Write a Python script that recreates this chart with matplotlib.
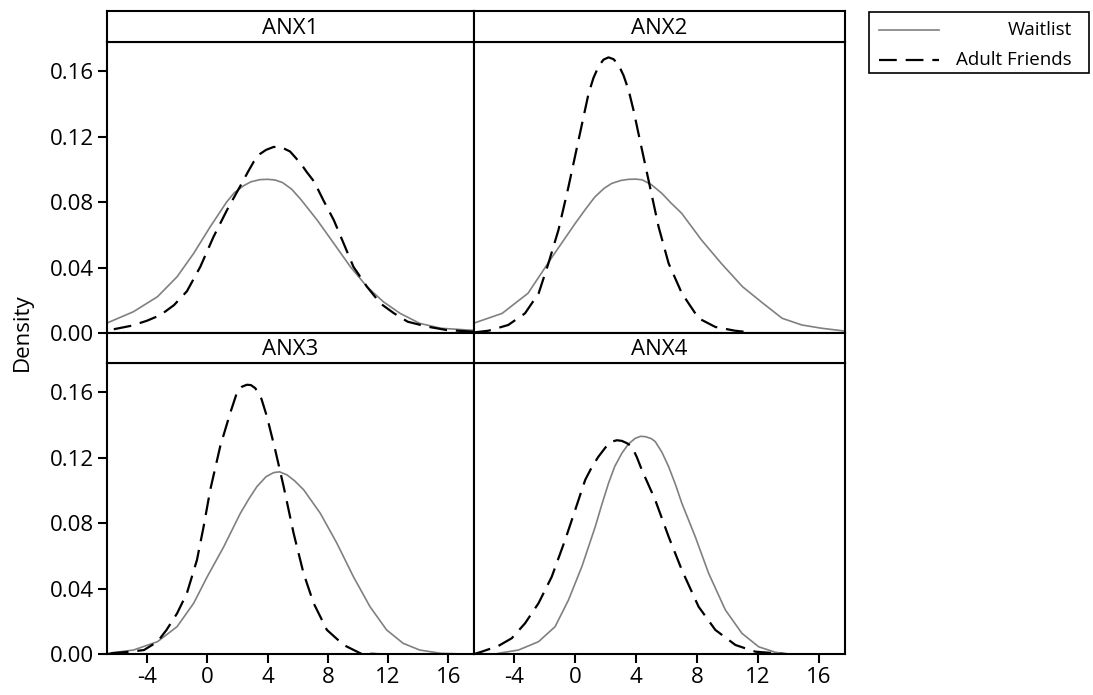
import matplotlib
matplotlib.use("Agg")
import matplotlib.pyplot as plt
from matplotlib.lines import Line2D
from matplotlib.patches import Rectangle

plt.rcParams['font.family'] = ['Open Sans', 'DejaVu Sans']

# ---------------- data ----------------
panels = ["ANX1", "ANX2", "ANX3", "ANX4"]
groups = ["Waitlist", "Adult Friends"]

anx1_wl_x = [-6.6, -4.9, -3.3, -2.0, -0.9, 0.2, 1.3, 1.8, 2.4, 2.9, 3.5, 4.0, 4.5, 5.0, 5.6, 6.2, 6.7, 7.3, 8.4, 9.5, 10.6, 11.7, 12.8, 14.1, 15.5, 17.7]
anx1_wl_y = [.0063, .013, .0222, .0344, .0487, .065, .0803, .0858, .0900, .0925, .0938, .094, .0936, .0920, .0880, .0818, .0760, .069, .0548, .0405, .0283, .019, .012, .0059, .0029, .0016]
anx1_af_x = [-6.2, -5.0, -4.0, -3.1, -2.2, -1.35, -0.46, 0.42, 1.3, 2.2, 2.7, 3.1, 3.5, 3.9, 4.4, 4.9, 5.5, 6.2, 6.6, 7.1, 7.7, 8.4, 9.05, 9.7, 10.6, 11.5, 12.4, 13.3, 14.6, 15.9, 17.7]
anx1_af_y = [.0023, .0045, .0075, .011, .0171, .0255, .0405, .0589, .075, .090, .0985, .1050, .1095, .1120, .1138, .1137, .1110, .1037, .0985, .0925, .0813, .069, .0548, .0405, .0283, .018, .012, .0069, .0039, .0018, .0008]

anx2_wl_x = [-6.7, -4.8, -3.1, -1.5, 0.0, 0.7, 1.3, 1.9, 2.4, 3.0, 3.5, 4.0, 4.4, 5.0, 5.7, 6.3, 7.0, 8.3, 9.6, 11.0, 12.3, 13.6, 14.9, 16.2, 17.7]
anx2_wl_y = [.0059, .012, .0243, .0467, .067, .076, .0833, .0885, .0915, .0933, .094, .0941, .0937, .0908, .0854, .0795, .0732, .0569, .0426, .0283, .0185, .009, .0049, .0029, .0012]
anx2_af_x = [-6.7, -5.7, -4.4, -3.3, -2.4, -1.76, -1.1, -0.44, 0.22, 0.88, 1.2, 1.53, 1.86, 2.19, 2.52, 2.85, 3.18, 3.51, 3.84, 4.16, 4.82, 5.48, 6.14, 7.01, 8.11, 9.21, 10.5, 11.1]
anx2_af_y = [.0003, .0014, .0049, .012, .0243, .0426, .063, .0895, .118, .1465, .156, .163, .1672, .1686, .1675, .164, .1575, .1486, .136, .122, .0935, .065, .0426, .0243, .009, .0037, .0014, .0008]

anx3_wl_x = [-6.6, -4.9, -3.3, -2.0, -0.9, 0.0, 1.1, 2.2, 2.8, 3.3, 3.9, 4.4, 4.8, 5.3, 5.8, 6.4, 7.5, 8.6, 9.7, 10.8, 11.9, 13.0, 14.1, 15.5, 17.7]
anx3_wl_y = [.0006, .0026, .0077, .0169, .0312, .0474, .0658, .0862, .0955, .1025, .1085, .111, .1115, .1096, .1060, .1005, .0862, .0679, .0474, .0291, .0149, .0067, .0026, .0006, .0]
anx3_af_x = [-6.4, -5.1, -4.2, -3.3, -2.7, -2.0, -1.35, -0.68, -0.24, 0.2, 0.86, 1.52, 1.96, 2.3, 2.63, 2.9, 3.19, 3.6, 3.96, 4.51, 5.07, 5.73, 6.39, 7.06, 7.94, 9.05, 10.16, 11.7]
anx3_af_y = [.0006, .0016, .0026, .0077, .0149, .025, .0373, .0577, .078, .1005, .127, .1473, .1596, .1635, .1647, .1645, .1626, .156, .1453, .1249, .1025, .074, .0495, .0312, .0149, .0057, .0006, .0]

anx4_wl_x = [-5.05, -3.73, -2.41, -1.32, -0.44, 0.44, 1.32, 1.75, 2.19, 2.6, 3.07, 3.5, 3.95, 4.3, 4.61, 5.0, 5.26, 5.7, 6.14, 6.6, 7.01, 7.89, 8.77, 9.87, 10.96, 12.06, 13.16, 14.25]
anx4_wl_y = [.0006, .0026, .0077, .0169, .0332, .0536, .078, .0915, .1045, .1148, .1229, .1285, .132, .1332, .133, .1318, .130, .1235, .1147, .1035, .0923, .0719, .0495, .0271, .0128, .0046, .0012, .0]
anx4_af_x = [-6.7, -6.14, -5.05, -4.17, -3.29, -2.41, -1.54, -0.66, 0.0, 0.66, 1.1, 1.53, 2.0, 2.41, 2.75, 3.07, 3.4, 3.72, 4.05, 4.38, 5.26, 6.14, 7.01, 8.11, 9.21, 10.53, 11.84, 14.0]
anx4_af_y = [.0, .0016, .0051, .0098, .019, .0312, .0474, .0699, .0882, .1066, .1145, .1208, .1265, .130, .1308, .1304, .129, .127, .1205, .1127, .0943, .0719, .0515, .0291, .0149, .0057, .0016, .0]

x_ticks = [-4, 0, 4, 8, 12, 16]
y_ticks = [0.00, 0.04, 0.08, 0.12, 0.16]
y_label = "Density"

curves = {
    "ANX1": [(anx1_wl_x, anx1_wl_y), (anx1_af_x, anx1_af_y)],
    "ANX2": [(anx2_wl_x, anx2_wl_y), (anx2_af_x, anx2_af_y)],
    "ANX3": [(anx3_wl_x, anx3_wl_y), (anx3_af_x, anx3_af_y)],
    "ANX4": [(anx4_wl_x, anx4_wl_y), (anx4_af_x, anx4_af_y)],
}

# ---------------- styles ----------------
W, H = 1093, 695
styles = [
    dict(color="#808080", lw=1.2, linestyle="-"),
    dict(color="black", lw=1.6, linestyle=(0, (8, 4))),
]
SPW = 1.5
FS = 16

fig = plt.figure(figsize=(W / 100, H / 100), dpi=100)

def fx(px):
    return px / W

def fy(py):
    return 1 - py / H

col_x = [(107, 474), (474, 844.5)]
row_y = [((11, 42), (42, 333)), ((333, 363), (363, 654.3))]

xlim = (-6.65, 17.7)
ylim = (0.0, 0.178)

for i, name in enumerate(panels):
    r, c = divmod(i, 2)
    x0, x1 = col_x[c]
    (s0, s1), (a0, a1) = row_y[r]
    ax = fig.add_axes([fx(x0), fy(a1), fx(x1) - fx(x0), fy(a0) - fy(a1)])
    for (xs, ys), st in zip(curves[name], styles):
        ax.plot(xs, ys, **st)
    ax.set_xlim(*xlim)
    ax.set_ylim(*ylim)
    for sp in ax.spines.values():
        sp.set_linewidth(SPW)
    ax.tick_params(direction="out", width=SPW, length=6.5, labelsize=FS, pad=3)
    if c == 0:
        ax.set_yticks(y_ticks)
        ax.set_yticklabels([f"{v:.2f}" for v in y_ticks])
    else:
        ax.set_yticks([])
    if r == 1:
        ax.set_xticks(x_ticks)
        ax.set_xticklabels([str(v) for v in x_ticks])
    else:
        ax.set_xticks([])
    # strip
    sax = fig.add_axes([fx(x0), fy(s1), fx(x1) - fx(x0), fy(s0) - fy(s1)])
    sax.set_xticks([])
    sax.set_yticks([])
    for sp in sax.spines.values():
        sp.set_linewidth(SPW)
    sax.text(0.5, 0.45, name, ha="center", va="center", fontsize=FS, transform=sax.transAxes)

fig.text(fx(22), fy(332), y_label, rotation=90, ha="center", va="center", fontsize=FS)

# ---------------- legend ----------------
fig.patches.append(Rectangle((fx(869), fy(73)), fx(1089) - fx(869), fy(12) - fy(73),
                             transform=fig.transFigure, fill=False, edgecolor="black", lw=1.2))
for k, (g, st) in enumerate(zip(groups, styles)):
    yy = fy(30 + 30 * k)
    fig.lines.append(Line2D([fx(879), fx(939)], [yy, yy], transform=fig.transFigure, **st))
    fig.text(fx(1072), yy, g, ha="right", va="center", fontsize=13.5)

fig.savefig("out.png", dpi=100)
